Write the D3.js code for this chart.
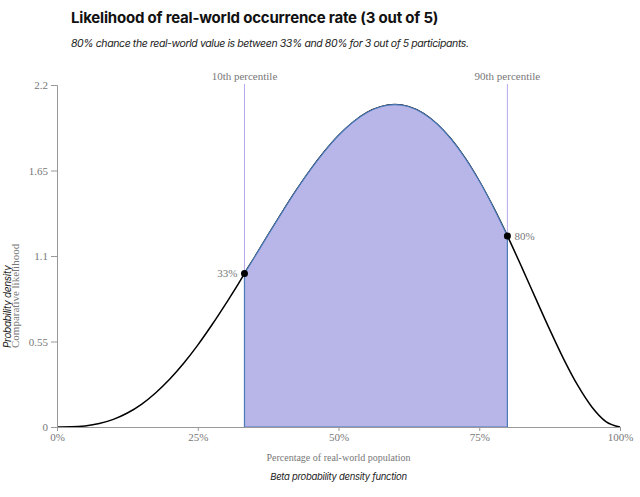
<!DOCTYPE html>
<html>
<head>
<meta charset="utf-8">
<script src="https://cdn.jsdelivr.net/npm/d3@7"></script>
<style>
  body { margin: 0; background: #fff; }
  .titulo { font-family: Inter, "Noto Sans", sans-serif; font-weight: 700; font-size: 15px; letter-spacing: -0.2px; fill: #111; }
  .sub { font-family: Inter, "Noto Sans", sans-serif; font-style: italic; font-size: 10.5px; letter-spacing: -0.4px; fill: #222; }
  .serif { font-family: "Liberation Serif", "DejaVu Serif", serif; font-size: 11px; fill: #777; }
  .eje text { font-family: "Liberation Serif", serif; font-size: 11px; fill: #777; }
  .eje line, .eje path { stroke: #999; }
</style>
</head>
<body>
<script>
// densidad (x = proporcion de la poblacion)
var xs = [0, 0.025, 0.05, 0.075, 0.1, 0.125, 0.15, 0.175, 0.2, 0.225, 0.25, 0.275, 0.3, 0.325, 0.333,
          0.35, 0.375, 0.4, 0.425, 0.45, 0.475, 0.5, 0.525, 0.55, 0.575, 0.6, 0.625, 0.65, 0.675,
          0.7, 0.725, 0.75, 0.775, 0.8, 0.825, 0.85, 0.875, 0.9, 0.925, 0.95, 0.975, 1];
var densidad = [0, 0.001, 0.007, 0.022, 0.049, 0.09, 0.146, 0.219, 0.307, 0.41, 0.527, 0.656, 0.794, 0.938, 0.988,
                1.087, 1.236, 1.382, 1.523, 1.654, 1.772, 1.875, 1.959, 2.022, 2.06, 2.074, 2.06, 2.019, 1.949,
                1.852, 1.729, 1.582, 1.414, 1.229, 1.032, 0.829, 0.628, 0.437, 0.267, 0.129, 0.035, 0];

var percentiles = ["10th percentile", "90th percentile"];
var valoresPercentil = [0.333, 0.8];
var etiquetasPercentil = ["33%", "80%"];

var ticksY = [0, 0.55, 1.1, 1.65, 2.2];
var ticksX = [0, 0.25, 0.5, 0.75, 1];

var width = 640;
var height = 497;

var margen = { arriba: 85, abajo: 70, izquierda: 57, derecha: 20 };

var datos = xs.map(function (x, i) { return { x: x, y: densidad[i] }; });

var escalaX = d3.scaleLinear()
    .domain([0, 1])
    .range([margen.izquierda, width - margen.derecha]);

var escalaY = d3.scaleLinear()
    .domain([0, 2.2])
    .range([height - margen.abajo, margen.arriba]);

var svg = d3.select("body")
    .append("svg")
    .attr("width", width)
    .attr("height", height);

svg.append("text").attr("class", "titulo")
    .attr("x", 71).attr("y", 23)
    .text("Likelihood of real-world occurrence rate (3 out of 5)");

svg.append("text").attr("class", "sub")
    .attr("x", 71).attr("y", 47)
    .text("80% chance the real-world value is between 33% and 80% for 3 out of 5 participants.");

// lineas de percentil
var gPerc = svg.append("g");
gPerc.selectAll("line")
    .data(valoresPercentil)
    .join("line")
    .attr("x1", d => escalaX(d)).attr("x2", d => escalaX(d))
    .attr("y1", escalaY(2.2) - 1).attr("y2", escalaY(0))
    .attr("stroke", "#b3aaf0")
    .attr("stroke-width", 1);

gPerc.selectAll("text")
    .data(valoresPercentil)
    .join("text")
    .attr("class", "serif")
    .attr("x", d => escalaX(d))
    .attr("y", escalaY(2.2) - 5)
    .attr("text-anchor", "middle")
    .text((d, i) => percentiles[i]);

// area sombreada entre percentiles
var datosArea = datos.filter(d => d.x >= valoresPercentil[0] && d.x <= valoresPercentil[1]);

var area = d3.area()
    .x(d => escalaX(d.x))
    .y0(escalaY(0))
    .y1(d => escalaY(d.y))
    .curve(d3.curveMonotoneX);

var linea = d3.line()
    .x(d => escalaX(d.x))
    .y(d => escalaY(d.y))
    .curve(d3.curveMonotoneX);

svg.append("path")
    .datum(datos)
    .attr("d", linea)
    .attr("fill", "none")
    .attr("stroke", "#000")
    .attr("stroke-width", 1.5);

svg.append("path")
    .datum(datosArea)
    .attr("d", area)
    .attr("fill", "#b8b6e8")
    .attr("stroke", "#4a7ab8")
    .attr("stroke-width", 1.2);

// ejes
var ejeY = d3.axisLeft(escalaY).tickValues(ticksY).tickFormat(d => d);
svg.append("g")
    .attr("class", "eje")
    .attr("transform", "translate(" + margen.izquierda + ",0)")
    .call(ejeY);

var ejeX = d3.axisBottom(escalaX).tickValues(ticksX).tickFormat(d3.format(".0%"))
    .tickSizeOuter(0).tickSize(4).tickPadding(2);
var gX = svg.append("g")
    .attr("class", "eje")
    .attr("transform", "translate(0," + escalaY(0) + ")")
    .call(ejeX);
gX.select(".domain").attr("stroke", "#6f9fd6");
gX.selectAll(".tick line").attr("stroke", "#bbb");

// puntos de percentil
svg.selectAll("circle")
    .data(valoresPercentil)
    .join("circle")
    .attr("cx", d => escalaX(d))
    .attr("cy", (d, i) => escalaY(densidad[xs.indexOf(d)]))
    .attr("r", 3.5)
    .attr("fill", "#000");

svg.selectAll(".etq")
    .data(valoresPercentil)
    .join("text")
    .attr("class", "serif etq")
    .attr("x", (d, i) => escalaX(d) + (i === 0 ? -7 : 7))
    .attr("y", d => escalaY(densidad[xs.indexOf(d)]) + 4)
    .attr("text-anchor", (d, i) => i === 0 ? "end" : "start")
    .text((d, i) => etiquetasPercentil[i]);

// titulos de ejes
svg.append("text")
    .attr("class", "sub")
    .attr("transform", "translate(11,348) rotate(-90)")
    .style("font-size", "10px")
    .style("letter-spacing", "-0.3px")
    .text("Probability density");

svg.append("text")
    .attr("class", "serif")
    .attr("transform", "translate(19,348) rotate(-90)")
    .text("Comparative likelihood");

svg.append("text")
    .attr("class", "serif")
    .attr("x", escalaX(0.5)).attr("y", 461)
    .attr("text-anchor", "middle")
    .style("font-size", "10px")
    .text("Percentage of real-world population");

svg.append("text")
    .attr("class", "sub")
    .attr("x", escalaX(0.5)).attr("y", 480)
    .attr("text-anchor", "middle")
    .style("font-size", "9.5px")
    .style("letter-spacing", "-0.3px")
    .text("Beta probability density function");
</script>
</body>
</html>
